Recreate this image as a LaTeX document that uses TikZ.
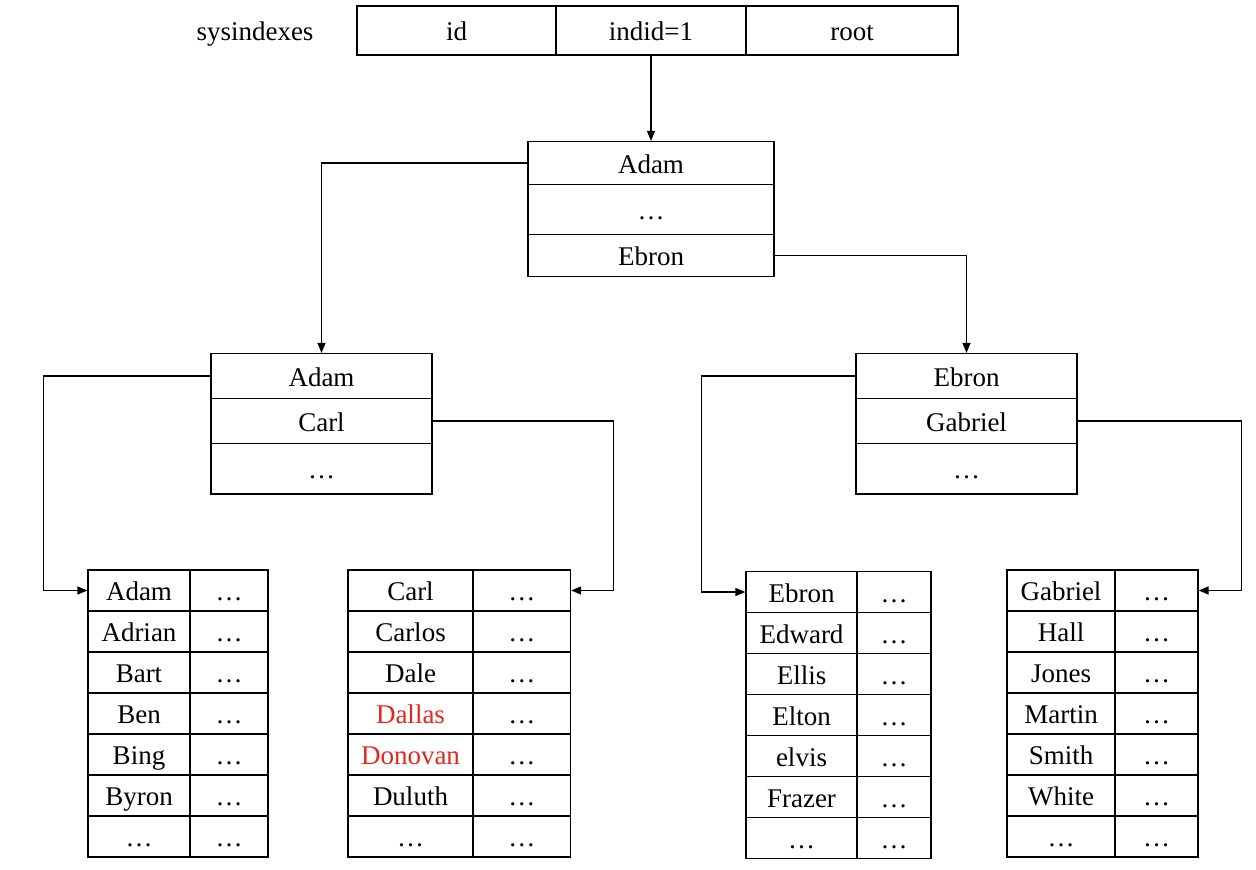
\documentclass[tikz,border=0pt]{standalone}
\usepackage{fontspec}
\setmainfont{Liberation Serif}
\usepackage{xcolor}
\usepackage{tikz}
\usetikzlibrary{arrows.meta}
\definecolor{keyred}{RGB}{228,38,33}

\begin{document}
\begin{tikzpicture}[
    x=1pt, y=-1pt,
    cell/.style={rectangle, draw, line width=1.2pt, inner sep=0pt, text height=20pt, text depth=0pt, font=\fontsize{27}{32}\selectfont},
    arrow/.style={-{Triangle[length=10pt, width=8pt]}, line width=1.2pt}
]
\useasboundingbox (0,0) rectangle (1256,870);

% sysindexes row
\node[cell, draw=none] (sys) at (255,30.5) {sysindexes};
\node[cell, minimum width=199pt, minimum height=49pt] (s1) at (456.5,30.5) {id};
\node[cell, minimum width=190pt, minimum height=49pt] (s2) at (651,30.5) {indid=1};
\node[cell, minimum width=212pt, minimum height=49pt] (s3) at (852,30.5) {root};

% Root page
\node[cell, minimum width=246pt, minimum height=43pt] (r1) at (651,163) {Adam};
\node[cell, minimum width=246pt, minimum height=50pt] (r2) at (651,209.5) {\ldots};
\node[cell, minimum width=246pt, minimum height=42pt] (r3) at (651,255.5) {Ebron};

% Intermediate pages
\node[cell, minimum width=221pt, minimum height=45pt] (a1) at (321.5,376) {Adam};
\node[cell, minimum width=221pt, minimum height=45pt] (a2) at (321.5,421) {Carl};
\node[cell, minimum width=221pt, minimum height=50.5pt] (a3) at (321.5,468.75) {\ldots};
\node[cell, minimum width=221pt, minimum height=45pt] (b1) at (966.5,376) {Ebron};
\node[cell, minimum width=221pt, minimum height=45pt] (b2) at (966.5,421) {Gabriel};
\node[cell, minimum width=221pt, minimum height=50.5pt] (b3) at (966.5,468.75) {\ldots};

% Leaf pages - one row per key
\foreach \name [count=\i] in {Adam,Adrian,Bart,Ben,Bing,Byron,\ldots} {
  \node[cell, minimum width=102pt, minimum height=41pt] (ka\i) at (139,549.5+41*\i) {\name};
  \node[cell, minimum width=78pt, minimum height=41pt] (va\i) at (229,549.5+41*\i) {\ldots};
}
\foreach \name/\col [count=\i] in {Carl/black,Carlos/black,Dale/black,Dallas/keyred,Donovan/keyred,Duluth/black,\ldots/black} {
  \node[cell, minimum width=125pt, minimum height=41pt, text=\col] (kb\i) at (410.5,549.5+41*\i) {\name};
  \node[cell, minimum width=97.5pt, minimum height=41pt] (vb\i) at (521.75,549.5+41*\i) {\ldots};
}
\foreach \name [count=\i] in {Ebron,Edward,Ellis,Elton,elvis,Frazer,\ldots} {
  \node[cell, minimum width=111pt, minimum height=41pt] (kc\i) at (801.5,551+41*\i) {\name};
  \node[cell, minimum width=74pt, minimum height=41pt] (vc\i) at (894,551+41*\i) {\ldots};
}
\foreach \name [count=\i] in {Gabriel,Hall,Jones,Martin,Smith,White,\ldots} {
  \node[cell, minimum width=108pt, minimum height=41pt] (kd\i) at (1061,549.5+41*\i) {\name};
  \node[cell, minimum width=83pt, minimum height=41pt] (vd\i) at (1156.5,549.5+41*\i) {\ldots};
}

% Pointers
\draw[arrow] (s2.south) -- (r1.north);
\draw[arrow] (r1.west) -| (a1.north);
\draw[arrow] (r3.east) -| (b1.north);
\draw[arrow] (a1.west) -- ++(-167,0) |- (ka1.west);
\draw[arrow] (a2.east) -- ++(181,0) |- (vb1.east);
\draw[arrow] (b1.west) -- ++(-154,0) |- (kc1.west);
\draw[arrow] (b2.east) -- ++(164,0) |- (vd1.east);

\end{tikzpicture}
\end{document}
